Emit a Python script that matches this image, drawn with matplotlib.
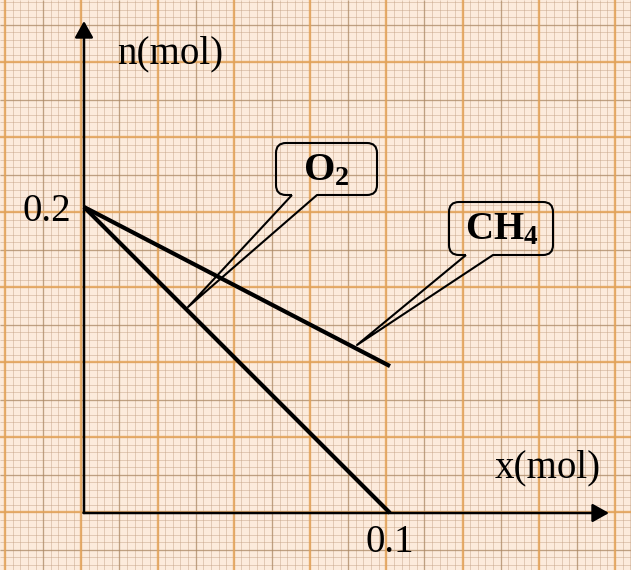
import numpy as np
import matplotlib
matplotlib.use("Agg")
import matplotlib.pyplot as plt
from matplotlib.path import Path
from matplotlib.patches import PathPatch
from matplotlib.collections import LineCollection

plt.rcParams['font.family'] = ['Liberation Serif', 'DejaVu Serif']
plt.rcParams['mathtext.fontset'] = 'custom'
plt.rcParams['mathtext.bf'] = 'Liberation Serif:bold'
plt.rcParams['mathtext.rm'] = 'Liberation Serif'

# data: x (mol) and amounts n (mol)
x_vals = [0.0, 0.1]
n_o2 = [0.2, 0.0]
n_ch4 = [0.2, 0.096]
x_ticks = [0.1]
x_tick_labels = ['0.1']
y_ticks = [0.2]
y_tick_labels = ['0.2']

W, H = 631, 570
fig = plt.figure(figsize=(W / 100, H / 100), dpi=100)

# paper background in pixel coords
bg = fig.add_axes([0, 0, 1, 1])
bg.set_xlim(0, W)
bg.set_ylim(H, 0)
bg.axis('off')
bg.add_patch(plt.Rectangle((0, 0), W, H, color='#fcebdc', zorder=0))


def grid_lines(ax, x0, dx, y0, dy, color, lw, alpha, z):
    segs = []
    for x in np.arange(x0, W + 1, dx):
        segs.append([(x, 0), (x, H)])
    for y in np.arange(y0, H + 1, dy):
        segs.append([(0, y), (W, y)])
    ax.add_collection(LineCollection(segs, colors=color, linewidths=lw,
                                     alpha=alpha, zorder=z))


gx0, gdx = 5.0, 76.25
gy0, gdy = 137.0 - 2 * 75.0, 75.0
grid_lines(bg, gx0 % (gdx / 10), gdx / 10, gy0 % (gdy / 10), gdy / 10, '#c4a286', 0.6, 0.55, 1)
grid_lines(bg, gx0 + gdx / 2 - gdx, gdx, gy0 + gdy / 2, gdy, '#a98560', 1.0, 0.6, 2)
grid_lines(bg, gx0, gdx, gy0, gdy, '#e3a257', 1.7, 0.85, 3)


def callout(ax, left, top, right, bottom, b1, b2, tip, r=10):
    verts = [(b1, bottom), tip, (b2, bottom), (right - r, bottom),
             (right, bottom), (right, bottom - r), (right, top + r),
             (right, top), (right - r, top), (left + r, top),
             (left, top), (left, top + r), (left, bottom - r),
             (left, bottom), (left + r, bottom), (b1, bottom)]
    codes = [Path.MOVETO, Path.LINETO, Path.LINETO, Path.LINETO,
             Path.CURVE3, Path.CURVE3, Path.LINETO,
             Path.CURVE3, Path.CURVE3, Path.LINETO,
             Path.CURVE3, Path.CURVE3, Path.LINETO,
             Path.CURVE3, Path.CURVE3, Path.LINETO]
    ax.add_patch(PathPatch(Path(verts, codes), fill=False, edgecolor='black',
                           lw=1.5, joinstyle='round', zorder=5))


callout(bg, 276, 143, 377, 195, 292, 317, (188, 307))
callout(bg, 449, 202, 553, 255, 466, 493, (357, 345))
bg.text(326, 171, r'$\mathbf{O_2}$', fontsize=29, ha='center', va='center', zorder=6)
bg.text(502, 230, r'$\mathbf{CH_4}$', fontsize=28, ha='center', va='center', zorder=6)
bg.text(170, 63, 'n(mol)', fontsize=28, ha='center', va='baseline', zorder=6)
bg.text(548, 477, 'x(mol)', fontsize=28, ha='center', va='baseline', zorder=6)

# data axes: origin at pixel (84, 513), 0.1 mol -> 306 px in x, 0.2 mol -> 306 px in y
ox, oy, sx, sy = 84, 513, 3060.0, 1530.0
ax = fig.add_axes([0, 0, 1, 1])
ax.patch.set_alpha(0)
ax.set_xlim(-ox / sx, (W - ox) / sx)
ax.set_ylim(-(H - oy) / sy, oy / sy)
for s in ax.spines.values():
    s.set_visible(False)
ax.spines['bottom'].set_position(('data', 0))
ax.spines['left'].set_position(('data', 0))

ax.plot(x_vals, n_o2, color='black', lw=3, solid_capstyle='butt', zorder=4)
ax.plot(x_vals, n_ch4, color='black', lw=3, solid_capstyle='butt', zorder=4)

arrow = dict(arrowstyle='-|>,head_length=0.5,head_width=0.28', color='black',
             lw=1.8, shrinkA=0, shrinkB=0, mutation_scale=20)
ax.annotate('', xy=(0, (oy - 21) / sy), xytext=(0, 0), arrowprops=arrow)
ax.annotate('', xy=((609 - ox) / sx, 0), xytext=(-0.5 / sx, 0), arrowprops=arrow)

ax.set_xticks(x_ticks, x_tick_labels)
ax.set_yticks(y_ticks, y_tick_labels)
ax.tick_params(axis='both', length=0, labelsize=28)
ax.tick_params(axis='x', pad=8)
ax.tick_params(axis='y', pad=9)

fig.savefig('out.png', dpi=100)
